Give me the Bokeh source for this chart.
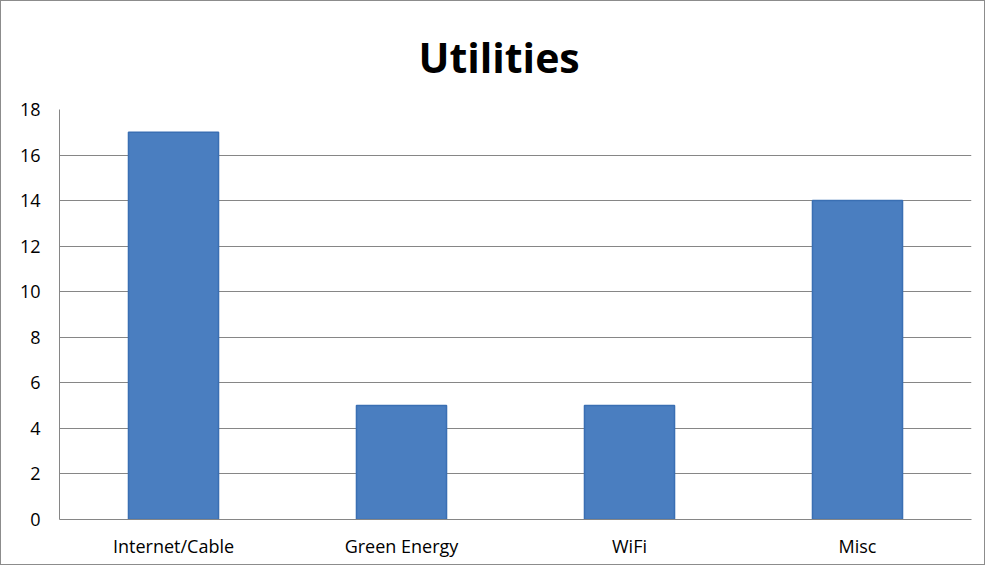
from bokeh.plotting import figure
from bokeh.embed import file_html
from bokeh.resources import INLINE
from bokeh.models import FixedTicker, ColumnDataSource

categories = ["Internet/Cable", "Green Energy", "WiFi", "Misc"]
values = [17, 5, 5, 14]
y_ticks = [0, 2, 4, 6, 8, 10, 12, 14, 16, 18]

src = ColumnDataSource(dict(cat=categories, val=values))

p = figure(x_range=categories, y_range=(0, 18), width=985, height=565,
           output_backend="svg", toolbar_location=None,
           min_border_left=58, min_border_right=15, min_border_top=108, min_border_bottom=47)
p.styles = {"border": "1px solid #8c8c8c", "box-sizing": "border-box"}

p.vbar(x="cat", top="val", width=0.395, source=src,
       fill_color="#4a7ec0", line_color="#3a6fb3", line_width=1.5)

p.title.text = "Utilities"
p.title.align = "left"
p.title.text_font = "Open Sans"
p.title.text_font_size = "41px"
p.title.text_font_style = "bold"
p.title.text_color = "#000000"
p.title.offset = 359
p.title.standoff = 50

p.outline_line_color = None
p.xgrid.grid_line_color = None
p.ygrid.grid_line_color = "#868686"
p.ygrid.grid_line_width = 1

p.yaxis.ticker = FixedTicker(ticks=y_ticks)
p.yaxis.major_tick_out = 0
p.yaxis.major_tick_in = 0
p.yaxis.minor_tick_line_color = None
p.yaxis.axis_line_color = "#868686"
p.yaxis.major_label_standoff = 19
p.yaxis.major_label_text_font = "Open Sans"
p.yaxis.major_label_text_font_size = "18px"
p.yaxis.major_label_text_color = "#000000"

p.xaxis.axis_line_color = "#868686"
p.xaxis.major_tick_out = 0
p.xaxis.major_tick_in = 0
p.xaxis.major_tick_line_color = None
p.xaxis.minor_tick_line_color = None
p.xaxis.major_label_standoff = 14
p.xaxis.major_label_text_font = "Open Sans"
p.xaxis.major_label_text_font_size = "18px"
p.xaxis.major_label_text_color = "#000000"

open("out.html", "w").write(file_html(p, INLINE))
